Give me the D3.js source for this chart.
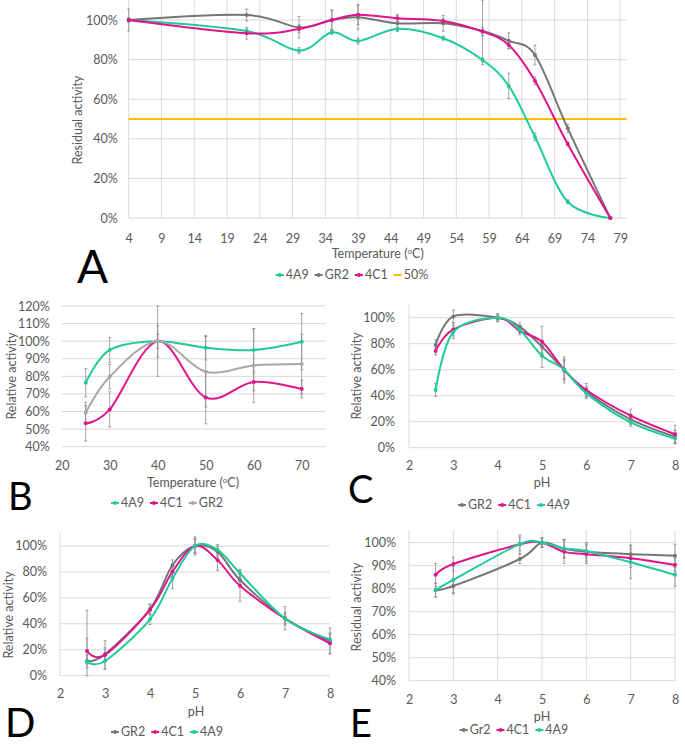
<!DOCTYPE html>
<html>
<head>
<meta charset="utf-8">
<script src="https://cdn.jsdelivr.net/npm/d3@7"></script>
<style>
body { margin: 0; background: #fff; }
text { font-family: Lato, "Open Sans", sans-serif; }
</style>
</head>
<body>
<div id="chart"></div>
<script>
// ---- Panel A : thermal stability ----
var tempA = [4, 22, 30, 35, 39, 45, 52, 58, 62, 66, 71, 77.5];
var a4A9 = [100, 94.4, 84.5, 93.8, 89.4, 95.5, 90.8, 79.8, 66.7, 41, 8.2, 0];
var aGR2 = [100, 102.5, 96.3, 100, 101.4, 98.3, 98.3, 94.4, 89.5, 82.3, 45.3, 0];
var a4C1 = [100, 93.3, 95.5, 100, 102.7, 100.9, 99.5, 94.1, 87.4, 69.3, 37.4, 0];
var aErr4A9 = [1, 1, 1.5, 1, 1.5, 1, 1, 1, 6.4, 2, 1, 0];
var aErrGR2 = [5.5, 3, 5.5, 5, 6, 4, 4, 17, 4, 5, 2, 0];
var aErr4C1 = [1, 3, 2, 5, 5, 2, 1, 2, 2, 2, 1, 0];
var halfLine = 50;
var xTicksA = [4, 9, 14, 19, 24, 29, 34, 39, 44, 49, 54, 59, 64, 69, 74, 79];
var yTicksA = [0, 20, 40, 60, 80, 100];

// ---- Panel B : temperature optimum ----
var tempB = [25, 30, 40, 50, 60, 70];
var b4A9 = [76.4, 95, 100, 96.3, 95, 99.7];
var b4C1 = [53.3, 61.2, 100, 68, 76.8, 72.8];
var bGR2 = [59.3, 79.8, 100, 82.6, 86.2, 87];
var bErr4A9 = [8, 7, 9, 7, 12, 16];
var bErr4C1 = [10, 10, 20, 15, 5, 5];
var bErrGR2 = [6, 7, 4, 20, 21, 17];
var xTicksB = [20, 30, 40, 50, 60, 70];
var yTicksB = [40, 50, 60, 70, 80, 90, 100, 110, 120];

// ---- Panel C : pH optimum ----
var phC = [2.6, 3, 4, 4.5, 5, 5.5, 6, 7, 8];
var cGR2 = [79, 101, 100, 93, 77.7, 59.8, 43, 21.8, 8.5];
var c4C1 = [74.4, 91, 100, 89.8, 81.5, 60, 44.4, 24.6, 10.3];
var c4A9 = [44.4, 89, 100, 90.5, 70.8, 60, 41.8, 19.5, 7];
var cErrGR2 = [4, 5, 2, 3, 5, 10, 4, 4, 5];
var cErr4C1 = [3, 5, 3, 3, 12, 8, 5, 5, 7];
var cErr4A9 = [5, 5, 3, 3, 9, 7, 4, 3, 4];

// ---- Panel D : pH optimum ----
var phD = [2.6, 3, 4, 4.5, 5, 5.5, 6, 7, 8];
var dGR2 = [11.3, 16.5, 51.4, 85.3, 100, 95.6, 73.8, 44.3, 26.8];
var d4C1 = [19, 16, 50.7, 80.2, 100, 89.2, 69.4, 44, 25];
var d4A9 = [10.8, 11.3, 43.5, 75, 100, 97, 79, 44, 28];
var dErrGR2 = [39, 5, 4, 4, 7, 4, 5, 9, 10];
var dErr4C1 = [10, 11, 4, 4, 6, 8, 12, 5, 8];
var dErr4A9 = [5, 6, 4, 8, 5, 4, 3, 4, 4];

// ---- Panel E : pH stability ----
var phE = [2.6, 3, 4.5, 5, 5.5, 6, 7, 8];
var eGR2 = [79.4, 81.2, 92.9, 100, 97.3, 96, 95, 94.3];
var e4C1 = [86, 90.7, 99.3, 100, 96, 95, 93.2, 90.3];
var e4A9 = [79.4, 83.8, 99.4, 100, 97.5, 96.4, 91.5, 86];
var eErrGR2 = [3, 3, 2, 2, 4, 4, 4, 5];
var eErr4C1 = [5, 3, 4, 2, 5, 4, 4, 3];
var eErr4A9 = [3, 6, 3, 2, 4, 3, 7, 5];

var xTicksPH = [2, 3, 4, 5, 6, 7, 8];
var yTicksPH = [0, 20, 40, 60, 80, 100];
var yTicksE = [40, 50, 60, 70, 80, 90, 100];

var green = "#1fcb9b", magenta = "#e0158d", gray = "#767676", lightGray = "#a8a8a8", orange = "#ffc000";
var textColor = "#595959", gridColor = "#d9d9d9";

var svg = d3.select("#chart").append("svg")
	.attr("width", 685)
	.attr("height", 746);

function zip(xs, ys) {
	return xs.map(function(v, i) { return [v, ys[i]]; });
}

function drawPanel(p) {
	var x = d3.scaleLinear().domain(p.xDomain).range(p.xRange);
	var y = d3.scaleLinear().domain(p.yDomain).range(p.yRange);
	var g = svg.append("g");

	// gridlines
	g.selectAll(".hgrid").data(p.yTicks).enter().append("line")
		.attr("x1", p.xRange[0]).attr("x2", p.xRange[1])
		.attr("y1", function(d) { return y(d); })
		.attr("y2", function(d) { return y(d); })
		.attr("stroke", gridColor).attr("stroke-width", 1);
	if (p.vGrid) {
		g.selectAll(".vgrid").data(p.xTicks).enter().append("line")
			.attr("x1", function(d) { return x(d); })
			.attr("x2", function(d) { return x(d); })
			.attr("y1", p.yRange[0]).attr("y2", p.yRange[1])
			.attr("stroke", gridColor).attr("stroke-width", 1);
	}
	if (p.leftAxis) {
		g.append("line")
			.attr("x1", p.xRange[0]).attr("x2", p.xRange[0])
			.attr("y1", p.yRange[0]).attr("y2", p.yRange[1])
			.attr("stroke", gridColor);
	}

	// axes (labels only)
	var ya = g.append("g")
		.attr("transform", "translate(" + p.xRange[0] + ",0)")
		.call(d3.axisLeft(y).tickValues(p.yTicks).tickSize(0).tickPadding(p.yPad)
			.tickFormat(function(d) { return d + "%"; }));
	var xa = g.append("g")
		.attr("transform", "translate(0," + p.yRange[0] + ")")
		.call(d3.axisBottom(x).tickValues(p.xTicks).tickSize(0).tickPadding(p.xPad)
			.tickFormat(function(d) { return String(d); }));
	[ya, xa].forEach(function(a) {
		a.select(".domain").remove();
		a.selectAll("text").attr("fill", textColor).style("font-size", "12.5px")
			.style("font-family", "Lato, 'Open Sans', sans-serif");
	});

	// reference line
	if (p.refLine != null) {
		g.append("line")
			.attr("x1", p.xRange[0]).attr("x2", p.xRange[1])
			.attr("y1", y(p.refLine)).attr("y2", y(p.refLine))
			.attr("stroke", orange).attr("stroke-width", 2);
	}

	// error bars
	p.series.forEach(function(s) {
		var pts = s.x.map(function(v, i) { return { x: v, y: s.y[i], e: s.err[i] }; })
			.filter(function(d) { return d.e > 0; });
		var eb = g.append("g").attr("stroke", "#8c8c8c").attr("stroke-width", 0.8);
		eb.selectAll(".eb").data(pts).enter().append("line")
			.attr("x1", function(d) { return x(d.x); })
			.attr("x2", function(d) { return x(d.x); })
			.attr("y1", function(d) { return y(Math.max(p.yDomain[0], d.y - d.e)); })
			.attr("y2", function(d) { return y(Math.min(p.yDomain[1], d.y + d.e)); });
		eb.selectAll(".cap").data(pts.concat(pts.map(function(d) { return { x: d.x, y: d.y, e: -d.e }; })))
			.enter().append("line")
			.attr("x1", function(d) { return x(d.x) - 1.5; })
			.attr("x2", function(d) { return x(d.x) + 1.5; })
			.attr("y1", function(d) { return y(Math.max(p.yDomain[0], Math.min(p.yDomain[1], d.y + d.e))); })
			.attr("y2", function(d) { return y(Math.max(p.yDomain[0], Math.min(p.yDomain[1], d.y + d.e))); });
	});

	// lines
	var line = d3.line()
		.x(function(d) { return x(d[0]); })
		.y(function(d) { return y(d[1]); })
		.curve(d3.curveCardinal.tension(0));
	p.series.forEach(function(s) {
		var data = zip(s.x, s.y);
		g.append("path").datum(data)
			.attr("d", line)
			.attr("fill", "none")
			.attr("stroke", s.color)
			.attr("stroke-width", 2);
		g.selectAll(null).data(data).enter().append("circle")
			.attr("cx", function(d) { return x(d[0]); })
			.attr("cy", function(d) { return y(d[1]); })
			.attr("r", 2)
			.attr("fill", s.color);
	});

	// titles
	g.append("text")
		.attr("transform", "translate(" + p.yTitle[0] + "," + p.yTitle[1] + ") rotate(-90)")
		.attr("text-anchor", "middle")
		.attr("dy", "0.35em")
		.attr("fill", textColor)
		.style("font-size", "12.5px")
		.text(p.yTitleText);
	var xt = g.append("text")
		.attr("x", p.xTitle[0]).attr("y", p.xTitle[1])
		.attr("text-anchor", "middle")
		.attr("fill", textColor)
		.style("font-size", "12.5px");
	if (p.xTitleText == "temp") {
		xt.append("tspan").text("Temperature (");
		xt.append("tspan").attr("dy", -4).style("font-size", "8px").text("o");
		xt.append("tspan").attr("dy", 4).text("C)");
	} else {
		xt.text(p.xTitleText);
	}

	// legend
	var lg = g.append("g");
	var cx = 0;
	p.legend.forEach(function(item) {
		var it = lg.append("g").attr("transform", "translate(" + cx + ",0)");
		it.append("line").attr("x1", 0).attr("x2", 8).attr("y1", 0).attr("y2", 0)
			.attr("stroke", item.color).attr("stroke-width", 2);
		if (item.marker) {
			it.append("circle").attr("cx", 4).attr("cy", 0).attr("r", 2).attr("fill", item.color);
		}
		var t = it.append("text").attr("x", 10).attr("dy", "0.35em")
			.attr("fill", textColor).style("font-size", "12.5px").text(item.name);
		cx += 10 + t.node().getComputedTextLength() + 6;
	});
	lg.attr("transform", "translate(" + (p.legendPos[0] - (cx - 6) / 2) + "," + p.legendPos[1] + ")");

	// panel letter
	g.append("text")
		.attr("x", p.letterPos[0]).attr("y", p.letterPos[1])
		.attr("fill", "#000")
		.style("font-size", p.letterSize + "px")
		.text(p.letter);
}

drawPanel({
	xDomain: [4, 80], xRange: [128.7, 626.7],
	yDomain: [0, 110], yRange: [218, 0.2],
	xTicks: xTicksA, yTicks: yTicksA, vGrid: true,
	yPad: 11, xPad: 16, refLine: halfLine,
	series: [
		{ x: tempA, y: a4A9, err: aErr4A9, color: green },
		{ x: tempA, y: aGR2, err: aErrGR2, color: gray },
		{ x: tempA, y: a4C1, err: aErr4C1, color: magenta }
	],
	yTitle: [78, 120], yTitleText: "Residual activity",
	xTitle: [377.7, 258], xTitleText: "temp",
	legend: [
		{ name: "4A9", color: green, marker: true },
		{ name: "GR2", color: gray, marker: true },
		{ name: "4C1", color: magenta, marker: true },
		{ name: "50%", color: orange, marker: false }
	],
	legendPos: [352, 275],
	letter: "A", letterPos: [77, 283], letterSize: 46
});

drawPanel({
	xDomain: [20, 75], xRange: [61.7, 325.7],
	yDomain: [40, 120], yRange: [446.7, 306],
	xTicks: xTicksB, yTicks: yTicksB, vGrid: false,
	yPad: 12, xPad: 14,
	series: [
		{ x: tempB, y: b4A9, err: bErr4A9, color: green },
		{ x: tempB, y: b4C1, err: bErr4C1, color: magenta },
		{ x: tempB, y: bGR2, err: bErrGR2, color: lightGray }
	],
	yTitle: [12, 376], yTitleText: "Relative activity",
	xTitle: [193, 487], xTitleText: "temp",
	legend: [
		{ name: "4A9", color: green, marker: true },
		{ name: "4C1", color: magenta, marker: true },
		{ name: "GR2", color: lightGray, marker: true }
	],
	legendPos: [167, 503],
	letter: "B", letterPos: [8, 510], letterSize: 38
});

drawPanel({
	xDomain: [2, 8], xRange: [409, 675],
	yDomain: [0, 110], yRange: [447.7, 304.7],
	xTicks: xTicksPH, yTicks: yTicksPH, vGrid: false, leftAxis: true,
	yPad: 14, xPad: 13,
	series: [
		{ x: phC, y: cGR2, err: cErrGR2, color: gray },
		{ x: phC, y: c4C1, err: cErr4C1, color: magenta },
		{ x: phC, y: c4A9, err: cErr4A9, color: green }
	],
	yTitle: [357, 376], yTitleText: "Relative activity",
	xTitle: [542, 487], xTitleText: "pH",
	legend: [
		{ name: "GR2", color: gray, marker: true },
		{ name: "4C1", color: magenta, marker: true },
		{ name: "4A9", color: green, marker: true }
	],
	legendPos: [514, 505],
	letter: "C", letterPos: [348, 503], letterSize: 38
});

drawPanel({
	xDomain: [2, 8], xRange: [60, 330],
	yDomain: [0, 110], yRange: [675.7, 533],
	xTicks: xTicksPH, yTicks: yTicksPH, vGrid: false, leftAxis: true,
	yPad: 13, xPad: 13,
	series: [
		{ x: phD, y: dGR2, err: dErrGR2, color: gray },
		{ x: phD, y: d4C1, err: dErr4C1, color: magenta },
		{ x: phD, y: d4A9, err: dErr4A9, color: green }
	],
	yTitle: [9, 615], yTitleText: "Relative activity",
	xTitle: [196, 716], xTitleText: "pH",
	legend: [
		{ name: "GR2", color: gray, marker: true },
		{ name: "4C1", color: magenta, marker: true },
		{ name: "4A9", color: green, marker: true }
	],
	legendPos: [167, 732],
	letter: "D", letterPos: [5, 737], letterSize: 40
});

drawPanel({
	xDomain: [2, 8], xRange: [409, 675],
	yDomain: [40, 105.5], yRange: [680.7, 530],
	xTicks: xTicksPH, yTicks: yTicksE, vGrid: true,
	yPad: 13, xPad: 14,
	series: [
		{ x: phE, y: eGR2, err: eErrGR2, color: gray },
		{ x: phE, y: e4C1, err: eErr4C1, color: magenta },
		{ x: phE, y: e4A9, err: eErr4A9, color: green }
	],
	yTitle: [357, 607], yTitleText: "Residual activity",
	xTitle: [542, 721], xTitleText: "pH",
	legend: [
		{ name: "Gr2", color: gray, marker: true },
		{ name: "4C1", color: magenta, marker: true },
		{ name: "4A9", color: green, marker: true }
	],
	legendPos: [514, 730],
	letter: "E", letterPos: [350, 737], letterSize: 38
});
</script>
</body>
</html>
